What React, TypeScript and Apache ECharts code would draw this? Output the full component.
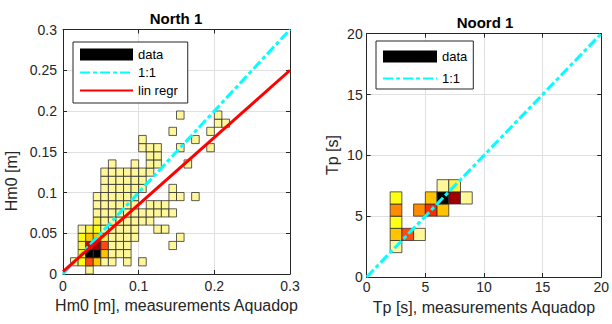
import React, { useEffect, useRef } from "react";
import * as echarts from "echarts";

// ---------- data ----------
// North 1: 2D histogram cells [x lower edge, y lower edge, count], bin 0.01 m
const northBin = 0.01;
const northCells: number[][] = [
  [0.03, 0.0, 1],
  [0.01, 0.01, 1], [0.02, 0.01, 3], [0.03, 0.01, 7], [0.04, 0.01, 4], [0.05, 0.01, 1], [0.06, 0.01, 1], [0.08, 0.01, 1], [0.1, 0.01, 1],
  [0.02, 0.02, 3], [0.03, 0.02, 12], [0.04, 0.02, 12], [0.05, 0.02, 4], [0.06, 0.02, 1], [0.07, 0.02, 1], [0.08, 0.02, 1],
  [0.02, 0.03, 2], [0.03, 0.03, 9], [0.04, 0.03, 10], [0.05, 0.03, 7], [0.06, 0.03, 1], [0.07, 0.03, 1], [0.08, 0.03, 1], [0.14, 0.03, 1],
  [0.02, 0.04, 3], [0.03, 0.04, 4], [0.04, 0.04, 4], [0.05, 0.04, 2], [0.06, 0.04, 1], [0.07, 0.04, 1], [0.08, 0.04, 1], [0.09, 0.04, 1], [0.15, 0.04, 1],
  [0.02, 0.05, 1], [0.03, 0.05, 2], [0.04, 0.05, 3], [0.05, 0.05, 1], [0.06, 0.05, 1], [0.07, 0.05, 1], [0.08, 0.05, 1], [0.09, 0.05, 1], [0.12, 0.05, 1], [0.13, 0.05, 1],
  [0.04, 0.06, 2], [0.05, 0.06, 1], [0.06, 0.06, 1], [0.07, 0.06, 1], [0.08, 0.06, 1], [0.09, 0.06, 1], [0.1, 0.06, 1], [0.11, 0.06, 1],
  [0.04, 0.07, 1], [0.05, 0.07, 1], [0.06, 0.07, 1], [0.07, 0.07, 1], [0.08, 0.07, 1], [0.09, 0.07, 1], [0.1, 0.07, 1], [0.11, 0.07, 1], [0.12, 0.07, 1], [0.13, 0.07, 1], [0.14, 0.07, 1],
  [0.04, 0.08, 1], [0.05, 0.08, 1], [0.06, 0.08, 1], [0.07, 0.08, 1], [0.08, 0.08, 1], [0.09, 0.08, 1], [0.11, 0.08, 1], [0.12, 0.08, 1], [0.13, 0.08, 1],
  [0.04, 0.09, 1], [0.05, 0.09, 1], [0.06, 0.09, 1], [0.07, 0.09, 1], [0.08, 0.09, 1], [0.09, 0.09, 1], [0.14, 0.09, 1], [0.15, 0.09, 1], [0.17, 0.09, 1],
  [0.05, 0.1, 1], [0.06, 0.1, 1], [0.07, 0.1, 1], [0.08, 0.1, 1], [0.09, 0.1, 1], [0.1, 0.1, 1], [0.14, 0.1, 1],
  [0.05, 0.11, 1], [0.06, 0.11, 1], [0.07, 0.11, 1], [0.08, 0.11, 1], [0.09, 0.11, 1], [0.1, 0.11, 1],
  [0.05, 0.12, 1], [0.06, 0.12, 1], [0.07, 0.12, 1], [0.08, 0.12, 1], [0.09, 0.12, 1], [0.1, 0.12, 1], [0.11, 0.12, 1],
  [0.06, 0.13, 1], [0.09, 0.13, 1], [0.11, 0.13, 1], [0.12, 0.13, 1], [0.16, 0.13, 1],
  [0.11, 0.14, 1], [0.12, 0.14, 1],
  [0.1, 0.15, 1], [0.11, 0.15, 1], [0.12, 0.15, 1], [0.15, 0.15, 1], [0.19, 0.15, 1],
  [0.1, 0.16, 1], [0.17, 0.16, 1],
  [0.14, 0.17, 1], [0.19, 0.17, 1],
  [0.2, 0.18, 1], [0.21, 0.18, 1],
  [0.15, 0.19, 1], [0.2, 0.19, 1],
];
const northOneToOne: number[][] = [[0, 0], [0.3, 0.3]];
const northRegression: number[][] = [[0, 0.003], [0.3, 0.25]];

// Noord 1: Tp cells, bin 1 s
const noordBin = 1;
const noordCells: number[][] = [
  [2, 2, 1], [2, 3, 4], [2, 4, 3], [2, 5, 5], [2, 6, 3],
  [3, 3, 7],
  [4, 3, 1], [4, 5, 5],
  [5, 5, 8], [5, 6, 4],
  [6, 5, 4], [6, 6, 12], [6, 7, 1],
  [7, 6, 10], [7, 7, 2],
  [8, 6, 1],
];
const noordOneToOne: number[][] = [[0, 0], [20, 20]];

// ---------- styles ----------
const FONT = '"Liberation Sans", Arial, Helvetica, sans-serif';
const INK = "#262626";
const GRID = "#E0E0E0";
const cellPalette = [
  "#FFFFFF", "#FFF799", "#FFF24A", "#FFFF14", "#FFC400", "#FF8C00",
  "#FF6A00", "#FF4A10", "#FF2A00", "#C81000", "#A00000", "#400000", "#000000",
];
const colorFor = (c: number) => cellPalette[Math.max(0, Math.min(cellPalette.length - 1, Math.round(c)))];

const cellRenderer = (bin: number) => (params: any, api: any) => {
  const x0 = api.value(0);
  const y0 = api.value(1);
  const c = api.value(2);
  const p0 = api.coord([x0, y0]);
  const p1 = api.coord([x0 + bin, y0 + bin]);
  return {
    type: "rect",
    shape: { x: p0[0], y: p1[1], width: p1[0] - p0[0], height: p0[1] - p1[1] },
    style: { fill: colorFor(c), stroke: "rgba(40,40,40,0.75)", lineWidth: 1 },
  };
};

const fmt2 = (v: number) => String(Math.round(v * 100) / 100);

function axisPair(
  gridIndex: number,
  min: number,
  max: number,
  interval: number,
  main: string,
  opposite: string,
  labelMargin: number,
  extra: any = {}
) {
  const common = {
    gridIndex,
    type: "value",
    min,
    max,
    interval,
    axisLine: { show: true, onZero: false, lineStyle: { color: INK, width: 1 } },
    axisTick: { show: true, inside: true, length: 4, lineStyle: { color: INK } },
  };
  return [
    {
      ...common,
      position: main,
      axisLabel: { color: INK, fontSize: 14, fontFamily: FONT, margin: labelMargin, formatter: fmt2 },
      splitLine: { show: true, lineStyle: { color: GRID, width: 1 } },
      ...extra,
    },
    {
      ...common,
      position: opposite,
      axisLabel: { show: false },
      splitLine: { show: false },
    },
  ];
}

const lineLegendItem = (name: string) => ({ name, itemStyle: { opacity: 0 } });

export default function App() {
  const ref = useRef<HTMLDivElement>(null);
  useEffect(() => {
    if (!ref.current) return;
    const chart = echarts.init(ref.current, undefined, { renderer: "svg" });
    const lg = { left: 63, top: 29.5, width: 227, height: 244.5 };
    const rg = { left: 366.7, top: 33.7, width: 237.3, height: 243.3 };
    const nameStyle = { color: INK, fontSize: 16, fontFamily: FONT };
    const dashDot = [10, 3, 4, 3];
    chart.setOption({
      animation: false,
      backgroundColor: "#ffffff",
      grid: [
        { ...lg, containLabel: false },
        { ...rg, containLabel: false },
      ],
      xAxis: [
        ...axisPair(0, 0, 0.3, 0.1, "bottom", "top", 5, {
          name: "Hm0 [m], measurements Aquadop",
          nameLocation: "middle",
          nameGap: 20,
          nameTextStyle: nameStyle,
        }),
        ...axisPair(1, 0, 20, 5, "bottom", "top", 3, {
          name: "Tp [s], measurements Aquadop",
          nameLocation: "middle",
          nameGap: 22,
          nameTextStyle: nameStyle,
        }),
      ],
      yAxis: [
        ...axisPair(0, 0, 0.3, 0.05, "left", "right", 6),
        ...axisPair(1, 0, 20, 5, "left", "right", 4),
      ],
      legend: [
        {
          orient: "vertical",
          left: 73,
          top: 42,
          data: [{ name: "data", icon: "rect" }, lineLegendItem("1:1"), lineLegendItem("lin regr")],
          itemWidth: 53,
          itemHeight: 12,
          itemGap: 5,
          padding: [6, 10, 6, 6],
          borderColor: INK,
          borderWidth: 1,
          backgroundColor: "#ffffff",
          selectedMode: false,
          textStyle: { fontSize: 13, color: "#000", fontFamily: FONT },
        },
        {
          orient: "vertical",
          left: 376,
          top: 41,
          data: [{ name: "data", icon: "rect" }, lineLegendItem("1:1")],
          itemWidth: 54,
          itemHeight: 12,
          itemGap: 9,
          padding: [9, 6, 4, 6],
          borderColor: INK,
          borderWidth: 1,
          backgroundColor: "#ffffff",
          selectedMode: false,
          textStyle: { fontSize: 13, color: "#000", fontFamily: FONT },
        },
      ],
      graphic: [
        {
          type: "text",
          x: 176,
          y: 18,
          style: { text: "North 1", fontSize: 15, fontWeight: "bold", fontFamily: FONT, fill: "#000", align: "center", verticalAlign: "middle" },
        },
        {
          type: "text",
          x: 485,
          y: 22.5,
          style: { text: "Noord 1", fontSize: 15, fontWeight: "bold", fontFamily: FONT, fill: "#000", align: "center", verticalAlign: "middle" },
        },
        {
          type: "text",
          x: 11,
          y: 181,
          rotation: Math.PI / 2,
          style: { text: "Hm0 [m]", fontSize: 16, fontFamily: FONT, fill: INK, align: "center", verticalAlign: "middle" },
        },
        {
          type: "text",
          x: 332,
          y: 155,
          rotation: Math.PI / 2,
          style: { text: "Tp [s]", fontSize: 16, fontFamily: FONT, fill: INK, align: "center", verticalAlign: "middle" },
        },
      ],
      series: [
        {
          type: "custom",
          name: "data",
          xAxisIndex: 0,
          yAxisIndex: 0,
          data: northCells,
          encode: { x: 0, y: 1 },
          renderItem: cellRenderer(northBin),
          itemStyle: { color: "#000" },
          z: 1,
        },
        {
          type: "line",
          name: "1:1",
          xAxisIndex: 0,
          yAxisIndex: 0,
          data: northOneToOne,
          symbol: "none",
          lineStyle: { color: "#00FFFF", width: 3, type: dashDot },
          itemStyle: { color: "#00FFFF" },
          z: 3,
        },
        {
          type: "line",
          name: "lin regr",
          xAxisIndex: 0,
          yAxisIndex: 0,
          data: northRegression,
          symbol: "none",
          lineStyle: { color: "#FF0000", width: 3 },
          itemStyle: { color: "#FF0000" },
          z: 4,
        },
        {
          type: "custom",
          name: "data",
          xAxisIndex: 2,
          yAxisIndex: 2,
          data: noordCells,
          encode: { x: 0, y: 1 },
          renderItem: cellRenderer(noordBin),
          itemStyle: { color: "#000" },
          z: 1,
        },
        {
          type: "line",
          name: "1:1",
          xAxisIndex: 2,
          yAxisIndex: 2,
          data: noordOneToOne,
          symbol: "none",
          lineStyle: { color: "#00FFFF", width: 3, type: dashDot },
          itemStyle: { color: "#00FFFF" },
          z: 3,
        },
      ],
    });
    return () => chart.dispose();
  }, []);
  return (
    <div
      ref={ref}
      style={{ position: "fixed", left: 0, top: 0, width: 612, height: 324, background: "#fff" }}
    />
  );
}
